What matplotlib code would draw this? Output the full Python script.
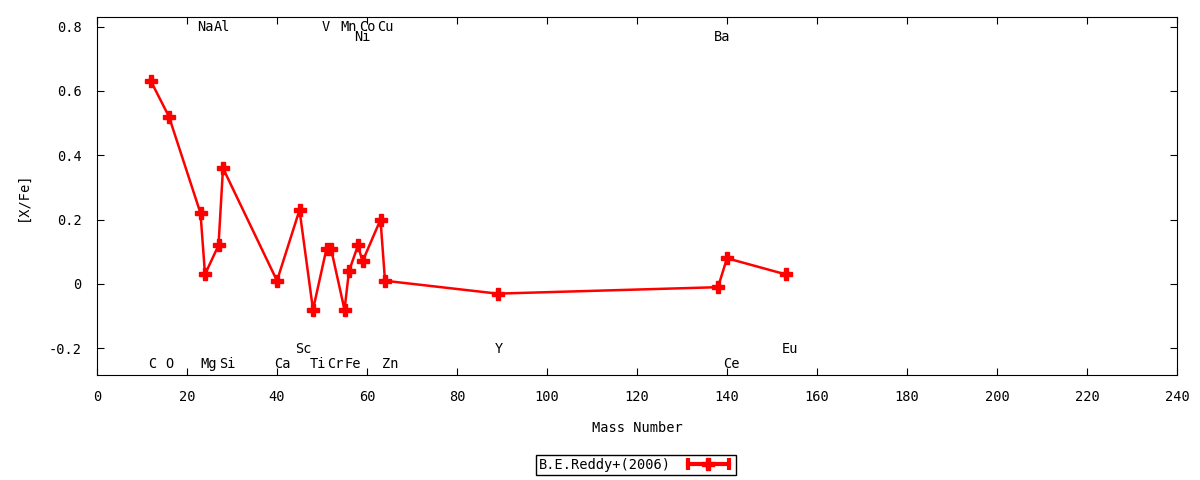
import matplotlib.pyplot as plt
from matplotlib.lines import Line2D
from matplotlib.legend_handler import HandlerLine2D, HandlerTuple
from matplotlib.ticker import FuncFormatter

plt.rcParams['font.family'] = 'DejaVu Sans Mono'
plt.rcParams['font.size'] = 9.8

# mass number and [X/Fe] for each element
mass = [12, 16, 23, 24, 27, 28, 40, 45, 48, 51, 52, 55, 56, 58, 59, 63, 64, 89, 138, 140, 153]
xfe = [0.63, 0.52, 0.22, 0.03, 0.12, 0.36, 0.01, 0.23, -0.08, 0.11, 0.11, -0.08, 0.04,
       0.12, 0.07, 0.20, 0.01, -0.03, -0.01, 0.08, 0.03]

# element labels (name, x, y)
lab_name = ['Na', 'Al', 'V', 'Mn', 'Co', 'Cu', 'Ni', 'Ba',
            'C', 'O', 'Mg', 'Si', 'Ca', 'Ti', 'Cr', 'Fe', 'Zn', 'Ce',
            'Sc', 'Y', 'Eu']
lab_x = [24, 27.8, 50.9, 56, 60, 64, 58.9, 138.9,
         12.2, 16, 24.9, 28.9, 41.1, 49.1, 52.9, 56.9, 65.1, 140.9,
         45.8, 89.3, 154]
lab_y = [0.8, 0.8, 0.8, 0.8, 0.8, 0.8, 0.767, 0.767,
         -0.248, -0.248, -0.248, -0.248, -0.248, -0.248, -0.248, -0.248, -0.248, -0.248,
         -0.203, -0.203, -0.203]

fig = plt.figure(figsize=(12, 4.8), dpi=100)
ax = fig.add_axes([97/1200, 1-375/480, 1080/1200, 358/480])

ax.plot(mass, xfe, '-', color='red', lw=1.8, marker='P', ms=8.5, mec='red', mfc='red')

for n, x, y in zip(lab_name, lab_x, lab_y):
    ax.text(x, y, n, ha='center', va='center')

ax.set_xlim(0, 240)
ax.set_ylim(-0.283, 0.83)
ax.set_xticks(range(0, 241, 20))
ax.set_yticks([-0.2, 0, 0.2, 0.4, 0.6, 0.8])
ax.yaxis.set_major_formatter(FuncFormatter(lambda v, p: '%g' % round(v, 2)))
ax.tick_params(direction='in', top=True, right=True, length=5, pad=11)
ax.set_xlabel('Mass Number', labelpad=12)
ax.set_ylabel('[X/Fe]', labelpad=14)

# legend sample like gnuplot yerrorlines: line with end caps and a point in the middle
caps = Line2D([], [], color='red', lw=3, marker='|', ms=9, mew=3)
pt = Line2D([], [], color='red', ls='none', marker='P', ms=8.5)
fig.legend([(caps, pt)], ['B.E.Reddy+(2006)'], loc='center',
           bbox_to_anchor=(636/1200, 1-465/480), markerfirst=False,
           fancybox=False, edgecolor='black', framealpha=1, borderpad=0.25,
           handlelength=3.6, handletextpad=0.9, borderaxespad=0,
           handler_map={tuple: HandlerTuple(ndivide=1),
                        caps: HandlerLine2D(numpoints=2),
                        pt: HandlerLine2D(numpoints=1)})
fig.legends[0].get_frame().set_linewidth(1)

fig.savefig('out.png')
